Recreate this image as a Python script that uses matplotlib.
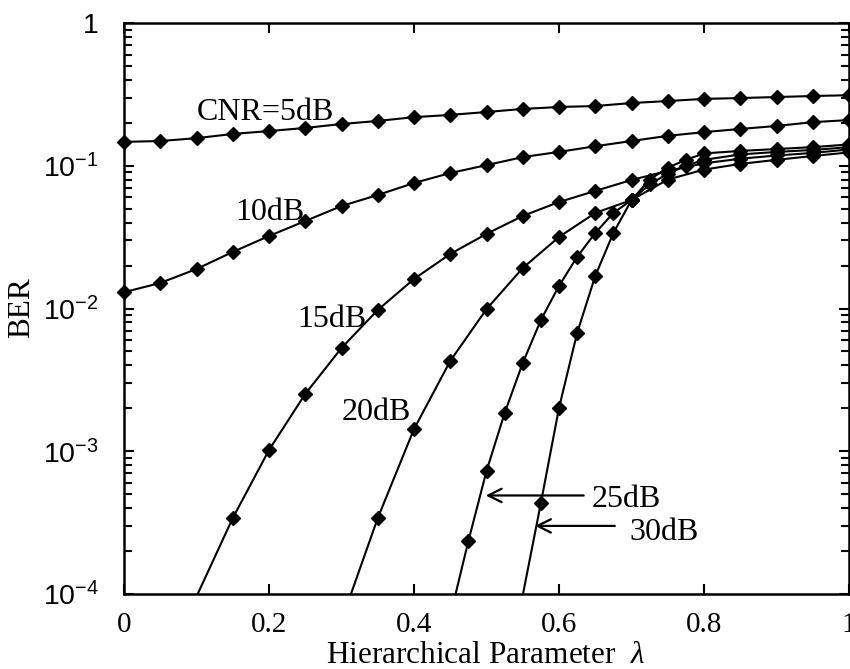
import numpy as np
import matplotlib
matplotlib.use("Agg")
import matplotlib.pyplot as plt
from matplotlib.ticker import LogLocator, NullFormatter

plt.rcParams["mathtext.fontset"] = "custom"
plt.rcParams["mathtext.rm"] = "Liberation Serif"
plt.rcParams["mathtext.it"] = "Liberation Serif:italic"

# ---- BER vs hierarchical parameter, one series per CNR ----
lam_5 = [0.00, 0.05, 0.10, 0.15, 0.20, 0.25, 0.30, 0.35, 0.40, 0.45, 0.50,
         0.55, 0.60, 0.65, 0.70, 0.75, 0.80, 0.85, 0.90, 0.95, 1.00]
ber_5 = [0.147, 0.149, 0.156, 0.167, 0.175, 0.184, 0.196, 0.206, 0.219, 0.227, 0.238,
         0.250, 0.258, 0.262, 0.275, 0.284, 0.294, 0.298, 0.303, 0.308, 0.312]

lam_10 = [0.00, 0.05, 0.10, 0.15, 0.20, 0.25, 0.30, 0.35, 0.40, 0.45, 0.50,
          0.55, 0.60, 0.65, 0.70, 0.75, 0.80, 0.85, 0.90, 0.95, 1.00]
ber_10 = [0.0130, 0.0151, 0.0189, 0.0249, 0.0322, 0.0410, 0.0522, 0.0624, 0.0757, 0.0889, 0.101,
          0.115, 0.125, 0.137, 0.149, 0.162, 0.172, 0.181, 0.190, 0.202, 0.209]

lam_15 = [0.10, 0.15, 0.20, 0.25, 0.30, 0.35, 0.40, 0.45, 0.50, 0.55,
          0.60, 0.65, 0.70, 0.75, 0.80, 0.85, 0.90, 0.95, 1.00]
ber_15 = [9.6e-5, 3.4e-4, 1.02e-3, 2.52e-3, 5.29e-3, 9.76e-3, 0.0161, 0.0241, 0.0333, 0.0445,
          0.0557, 0.0666, 0.0795, 0.092, 0.104, 0.112, 0.118, 0.123, 0.130]

lam_20 = [0.30, 0.35, 0.40, 0.45, 0.50, 0.55, 0.60, 0.65, 0.70,
          0.75, 0.80, 0.85, 0.90, 0.95, 1.00]
ber_20 = [6.5e-5, 3.4e-4, 1.43e-3, 4.29e-3, 9.9e-3, 0.0192, 0.0317, 0.0467, 0.0575,
          0.080, 0.094, 0.103, 0.110, 0.117, 0.124]

lam_25 = [0.450, 0.475, 0.500, 0.525, 0.550, 0.575, 0.600, 0.625, 0.650, 0.675, 0.700,
          0.725, 0.750, 0.775, 0.800, 0.850, 0.900, 0.950, 1.000]
ber_25 = [7.0e-5, 2.35e-4, 7.27e-4, 1.85e-3, 4.15e-3, 8.3e-3, 0.0144, 0.0230, 0.0338, 0.0467, 0.0575,
          0.074, 0.088, 0.100, 0.110, 0.120, 0.125, 0.129, 0.135]

lam_30 = [0.550, 0.575, 0.600, 0.625, 0.650, 0.675, 0.700, 0.725, 0.750, 0.775, 0.800,
          0.850, 0.900, 0.950, 1.000]
ber_30 = [9.8e-5, 4.34e-4, 2.01e-3, 6.74e-3, 0.0169, 0.0338, 0.0575, 0.080, 0.097, 0.110, 0.122,
          0.127, 0.131, 0.135, 0.141]

series = [(lam_5, ber_5), (lam_10, ber_10), (lam_15, ber_15),
          (lam_20, ber_20), (lam_25, ber_25), (lam_30, ber_30)]

x_ticks = [0.0, 0.2, 0.4, 0.6, 0.8, 1.0]
x_ticklabels = ["0", "0.2", "0.4", "0.6", "0.8", "1"]
y_ticks = [1e-4, 1e-3, 1e-2, 1e-1, 1.0]
y_ticklabels = [r"$\mathdefault{10^{-4}}$", r"$\mathdefault{10^{-3}}$",
                r"$\mathdefault{10^{-2}}$", r"$\mathdefault{10^{-1}}$", "1"]

SERIF = "Liberation Serif"
SANS = "Liberation Sans"
YMIN, YMAX = 1e-4, 1.0

fig = plt.figure(figsize=(8.5, 6.69), dpi=100)
ax = fig.add_axes([124 / 850, 75 / 669, 725 / 850, 571 / 669])

for lam, ber in series:
    lam = np.asarray(lam)
    ber = np.asarray(ber)
    # line runs off the bottom edge, clipped by the axes
    ax.plot(lam, ber, color="black", lw=1.5, solid_joinstyle="round")
    vis = ber >= YMIN
    ax.plot(lam[vis], ber[vis], linestyle="none", marker="D", markersize=6.8,
            color="black", clip_on=False, zorder=3)

ax.set_yscale("log")
ax.set_xlim(0, 1)
ax.set_ylim(YMIN, YMAX)

ax.set_xticks(x_ticks)
ax.set_xticklabels(x_ticklabels, fontfamily=SERIF, fontsize=21)
ax.set_yticks(y_ticks)
ax.set_yticklabels(y_ticklabels, fontfamily=SANS, fontsize=20.5)
ax.yaxis.set_minor_locator(LogLocator(base=10, subs=np.arange(2, 10)))
ax.yaxis.set_minor_formatter(NullFormatter())

ax.tick_params(axis="both", which="both", direction="in", top=True, right=True,
               width=1.5, color="black")
ax.tick_params(axis="both", which="major", length=7)
ax.tick_params(axis="y", which="minor", length=6)
ax.tick_params(axis="x", which="major", pad=13)
ax.tick_params(axis="y", which="major", pad=18)

for sp in ax.spines.values():
    sp.set_linewidth(1.8)

# curve labels
lab_kw = dict(fontfamily=SERIF, fontsize=23, ha="left", va="baseline")
ax.text(0.100, 0.209, "CNR=5dB", **lab_kw)
ax.text(0.153, 0.0417, "10dB", **lab_kw)
ax.text(0.2386, 7.42e-3, "15dB", **lab_kw)
ax.text(0.3007, 1.66e-3, "20dB", **lab_kw)
ax.text(0.6455, 4.07e-4, "25dB", **lab_kw)
ax.text(0.6966, 2.39e-4, "30dB", **lab_kw)

arrow_kw = dict(arrowstyle="->", lw=1.6, color="black", mutation_scale=24,
                shrinkA=0, shrinkB=0)
ax.annotate("", xy=(0.499, 4.9e-4), xytext=(0.634, 4.9e-4), arrowprops=arrow_kw)
ax.annotate("", xy=(0.567, 3.0e-4), xytext=(0.677, 3.0e-4), arrowprops=arrow_kw)

fig.text(22 / 850, 1 - 308 / 669, "BER", rotation=90, fontfamily=SERIF,
         fontsize=22.5, ha="center", va="center")
fig.text(486 / 850, 1 - 663 / 669, r"Hierarchical Parameter  $\lambda$",
         fontfamily=SERIF, fontsize=22.5, ha="center", va="baseline")

fig.savefig("out.png", dpi=100)
